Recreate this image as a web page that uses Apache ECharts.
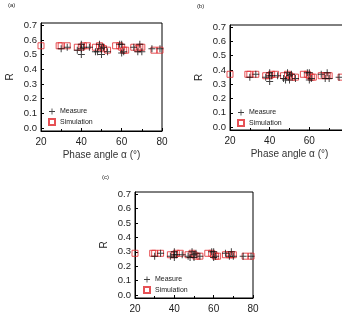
<!DOCTYPE html>
<html>
<head>
<meta charset="utf-8">
<script src="https://cdn.jsdelivr.net/npm/echarts@6/dist/echarts.min.js"></script>
<style>
  html, body { margin: 0; padding: 0; background: #fff; }
  #main { width: 342px; height: 315px; }
</style>
</head>
<body>
<div id="main"></div>
<script>
// phase angles (deg)
const simAngles = [20, 29, 30, 33, 38, 40, 41, 43, 47, 49, 50, 51, 53, 57, 59, 60, 61, 62, 66, 68, 69, 70, 76, 79];
const measAngles = [30, 33, 38, 40, 40, 40, 41, 44, 47, 48, 49, 50, 50, 51, 53, 59, 60, 60, 61, 66, 68, 69, 70, 75, 79];

// panel (a)
const simA = [0.56, 0.56, 0.56, 0.56, 0.55, 0.55, 0.56, 0.56, 0.55, 0.56, 0.55, 0.54, 0.53, 0.56, 0.56, 0.55, 0.53, 0.53, 0.55, 0.54, 0.55, 0.55, 0.53, 0.53];
const measA = [0.54, 0.55, 0.53, 0.50, 0.54, 0.57, 0.55, 0.55, 0.52, 0.52, 0.57, 0.50, 0.54, 0.55, 0.52, 0.57, 0.51, 0.57, 0.52, 0.55, 0.52, 0.57, 0.52, 0.54, 0.54];
// panel (b)
const simB = [0.37, 0.37, 0.37, 0.37, 0.36, 0.36, 0.37, 0.37, 0.36, 0.37, 0.36, 0.35, 0.35, 0.37, 0.37, 0.36, 0.35, 0.35, 0.36, 0.36, 0.36, 0.36, 0.35, 0.35];
const measB = [0.35, 0.37, 0.35, 0.32, 0.36, 0.38, 0.36, 0.36, 0.34, 0.33, 0.38, 0.33, 0.36, 0.37, 0.34, 0.38, 0.33, 0.38, 0.34, 0.37, 0.34, 0.38, 0.34, 0.35, 0.35];
// panel (c)
const simC = [0.29, 0.29, 0.29, 0.29, 0.28, 0.28, 0.29, 0.29, 0.28, 0.29, 0.28, 0.27, 0.27, 0.29, 0.29, 0.28, 0.27, 0.27, 0.28, 0.28, 0.28, 0.28, 0.27, 0.27];
const measC = [0.27, 0.29, 0.27, 0.26, 0.28, 0.30, 0.28, 0.28, 0.27, 0.26, 0.30, 0.26, 0.28, 0.29, 0.27, 0.30, 0.26, 0.30, 0.27, 0.29, 0.27, 0.30, 0.27, 0.27, 0.27];

const yTicks = [0, 0.1, 0.2, 0.3, 0.4, 0.5, 0.6, 0.7];

const font = "Liberation Sans, Arial, sans-serif";
const plus = "path://M3,0H4V3H7V4H4V7H3V4H0V3H3Z";

function pairs(xs, ys) {
  return xs.map((x, i) => [x, ys[i]]);
}

function xAx(idx, name) {
  return {
    gridIndex: idx, type: "value", min: 20, max: 80, interval: 20,
    name: name, nameLocation: "middle", nameGap: 19,
    nameTextStyle: { fontSize: 10, color: "#333", fontFamily: font },
    axisLine: { onZero: false, lineStyle: { color: "#000" } },
    axisTick: { inside: true, length: 3, lineStyle: { color: "#000" } },
    minorTick: { show: true, splitNumber: 2, length: 2, lineStyle: { color: "#000" } },
    axisLabel: { fontSize: 10, color: "#222", fontFamily: font, margin: 6, showMaxLabel: true },
    splitLine: { show: false }
  };
}

function yAx(idx) {
  return {
    gridIndex: idx, type: "value", min: -0.02, max: 0.715,
    name: "R", nameLocation: "middle", nameGap: 26,
    nameTextStyle: { fontSize: 10, color: "#222", fontFamily: font },
    axisLine: { lineStyle: { color: "#000" } },
    axisTick: { inside: true, length: 3, customValues: yTicks, lineStyle: { color: "#000" } },
    axisLabel: { fontSize: 9.5, color: "#222", fontFamily: font, margin: 4, customValues: yTicks,
      formatter: v => v.toFixed(1) },
    splitLine: { show: false }
  };
}

function series(idx, meas, sim) {
  return [
    {
      name: "Measure", type: "scatter", xAxisIndex: idx, yAxisIndex: idx,
      symbol: plus, symbolSize: 7,
      itemStyle: { color: "#111" },
      data: pairs(measAngles, meas), z: 3
    },
    {
      name: "Simulation", type: "scatter", xAxisIndex: idx, yAxisIndex: idx,
      symbol: "rect", symbolSize: 6,
      itemStyle: { color: "rgba(0,0,0,0)", borderColor: "#e0262b", borderWidth: 1 },
      data: pairs(simAngles, sim), z: 2
    }
  ];
}

function legend(left, top) {
  return {
    data: ["Measure", "Simulation"], orient: "vertical", left: left, top: top,
    itemWidth: 6, itemHeight: 6, itemGap: 3, padding: 0,
    textStyle: { fontSize: 7, color: "#222", fontFamily: font }
  };
}

function grid(left, top, width, height) {
  return { left: left, top: top, width: width, height: height, outerBoundsMode: "none",
    containLabel: false, show: true, borderColor: "#000", borderWidth: 1 };
}

const chart = echarts.init(document.getElementById("main"));
chart.setOption({
  animation: false,
  backgroundColor: "#fff",
  grid: [grid(41, 23, 121, 108), grid(230, 25, 119, 105), grid(135, 192, 118, 106)],
  xAxis: [xAx(0, "Phase angle α (°)"), xAx(1, "Phase angle α (°)"), xAx(2, "")],
  yAxis: [yAx(0), yAx(1), yAx(2)],
  legend: [legend(48, 108), legend(237, 109), legend(143, 276)],
  graphic: [
    { type: "text", left: 8, top: 2, style: { text: "(a)", fontSize: 6, fill: "#222", fontFamily: font } },
    { type: "text", left: 197, top: 3, style: { text: "(b)", fontSize: 6, fill: "#222", fontFamily: font } },
    { type: "text", left: 102, top: 174, style: { text: "(c)", fontSize: 6, fill: "#222", fontFamily: font } }
  ],
  series: [].concat(series(0, measA, simA), series(1, measB, simB), series(2, measC, simC))
});
</script>
</body>
</html>
